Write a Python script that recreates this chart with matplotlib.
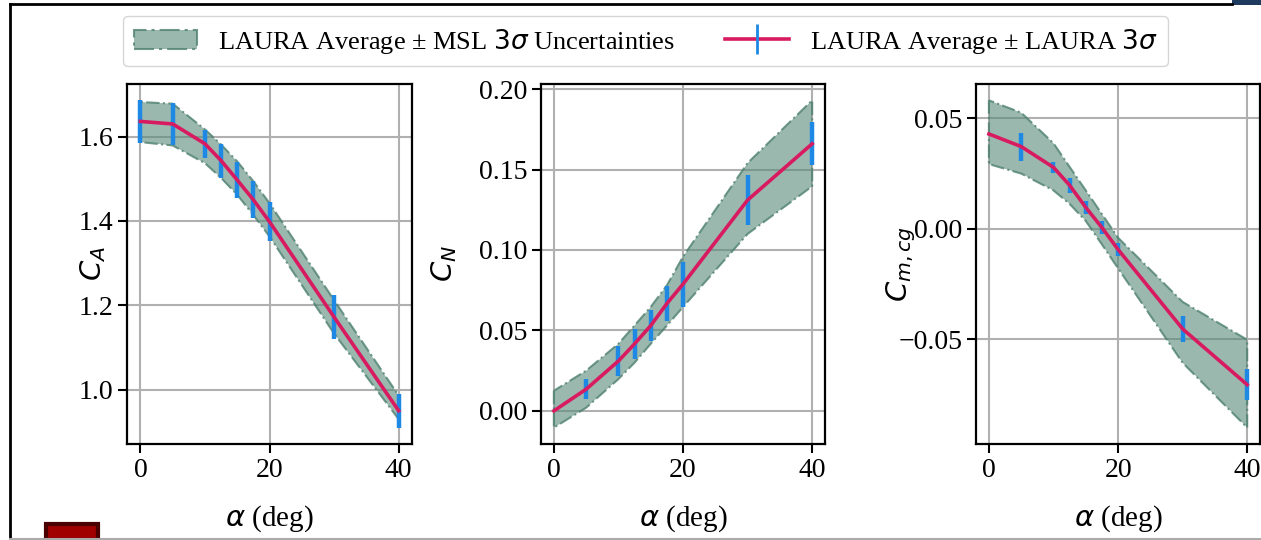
import matplotlib
matplotlib.use('Agg')
import matplotlib.pyplot as plt
from matplotlib.patches import Rectangle
from matplotlib.lines import Line2D

plt.rcParams['font.family'] = ['Liberation Serif', 'DejaVu Serif']
plt.rcParams['mathtext.fontset'] = 'dejavusans'
plt.rcParams['axes.unicode_minus'] = True

alpha = [0, 5, 10, 12.5, 15, 17.5, 20, 30, 40]

# axial force
ca_avg = [1.636, 1.630, 1.583, 1.543, 1.497, 1.450, 1.398, 1.172, 0.950]
ca_err = [0.050, 0.050, 0.033, 0.040, 0.042, 0.044, 0.046, 0.052, 0.040]
ca_lo = [1.587, 1.579, 1.537, 1.502, 1.462, 1.414, 1.363, 1.133, 0.930]
ca_hi = [1.682, 1.678, 1.617, 1.581, 1.541, 1.494, 1.442, 1.212, 0.986]

# normal force
cn_avg = [0.000, 0.0135, 0.031, 0.0417, 0.053, 0.0667, 0.0788, 0.131, 0.166]
cn_err = [0.000, 0.0063, 0.0093, 0.0094, 0.0094, 0.011, 0.014, 0.0155, 0.0133]
cn_lo = [-0.0104, 0.002, 0.0198, 0.030, 0.0417, 0.053, 0.0646, 0.110, 0.1396]
cn_hi = [0.0125, 0.025, 0.0417, 0.0531, 0.0646, 0.078, 0.0958, 0.154, 0.193]

# pitching moment about cg
cm_avg = [0.0428, 0.0371, 0.0277, 0.0196, 0.0096, 0.0005, -0.0094, -0.0453, -0.0705]
cm_err = [0.000, 0.0063, 0.0026, 0.0033, 0.0031, 0.0028, 0.0028, 0.0057, 0.0071]
cm_lo = [0.0292, 0.0249, 0.0173, 0.0112, 0.0035, -0.0071, -0.0179, -0.0606, -0.0899]
cm_hi = [0.058, 0.0524, 0.0386, 0.0279, 0.0173, 0.0066, -0.0041, -0.0331, -0.0502]

ylabels = ['$C_A$', '$C_N$', '$C_{m,cg}$']
yticks = [[1.0, 1.2, 1.4, 1.6],
          [0.00, 0.05, 0.10, 0.15, 0.20],
          [-0.05, 0.00, 0.05]]
yfmt = ['{:.1f}', '{:.2f}', '{:.2f}']

band_face = (0.345, 0.541, 0.475, 0.6)
band_edge = (0.30, 0.50, 0.44, 0.8)
red = '#d81b60'
blue = '#1e88e5'

fig = plt.figure(figsize=(12.61, 5.4), dpi=100)
lefts = [0.1011, 0.4290, 0.7740]
ylabel_x = [-0.07, -0.29, -0.205]
data = [(ca_avg, ca_err, ca_lo, ca_hi),
        (cn_avg, cn_err, cn_lo, cn_hi),
        (cm_avg, cm_err, cm_lo, cm_hi)]

for i in range(3):
    ax = fig.add_axes([lefts[i], 0.1778, 0.2253, 0.6667])
    avg, err, lo, hi = data[i]
    ax.fill_between(alpha, lo, hi, facecolor=band_face, edgecolor=band_edge,
                    linestyle='-.', linewidth=1.5, zorder=2)
    ax.errorbar(alpha, avg, yerr=err, fmt='none', ecolor=blue, elinewidth=3.2, zorder=3)
    ax.plot(alpha, avg, color=red, linewidth=2.6, zorder=4)
    ax.grid(True, color='#b0b0b0', linewidth=1.5)
    ax.set_axisbelow(True)
    ax.set_xticks([0, 20, 40])
    ax.set_yticks(yticks[i])
    ax.set_yticklabels([yfmt[i].format(v).replace('-', '\u2212') for v in yticks[i]])
    ax.tick_params(labelsize=20, width=1.5, length=6.5)
    for s in ax.spines.values():
        s.set_linewidth(1.6)
    ax.set_xlabel(r'$\alpha$ (deg)', fontsize=21, va='top')
    ax.xaxis.set_label_coords(0.5, -0.165)
    ax.set_ylabel(ylabels[i], fontsize=21)
    ax.yaxis.set_label_coords(ylabel_x[i], 0.5)

h_band = plt.fill_between([], [], [], facecolor=band_face, edgecolor=band_edge,
                          linestyle='-.', linewidth=1.5)
h_line = Line2D([], [], color=red, linewidth=2.6, marker='|', markersize=22,
                markeredgecolor=blue, markeredgewidth=2)
fig.legend([h_band, h_line],
           ['LAURA Average \u00b1 MSL $3\\sigma$ Uncertainties',
            'LAURA Average \u00b1 LAURA $3\\sigma$'],
           loc='center', bbox_to_anchor=(0.512, 0.924), ncol=2, fontsize=19,
           columnspacing=1.9, handlelength=2.4, edgecolor='#cccccc')

# screenshot frame
fig.add_artist(Line2D([10 / 1261, 1232 / 1261], [1 - 4 / 540] * 2, color='black', lw=2))
fig.add_artist(Line2D([10 / 1261] * 2, [0, 1 - 4 / 540], color='black', lw=2))
fig.add_artist(Line2D([10 / 1261, 1], [1 / 540] * 2, color='#aaaaaa', lw=1.5))
fig.add_artist(Rectangle((1232 / 1261, 1 - 5 / 540), 29 / 1261, 5 / 540,
                         facecolor='#1f3a5f', edgecolor='none'))
fig.add_artist(Rectangle((46 / 1261, 0), 52 / 1261, 16 / 540,
                         facecolor='#a00000', edgecolor='#4a0000', lw=3))

fig.savefig('out.png', dpi=100)
